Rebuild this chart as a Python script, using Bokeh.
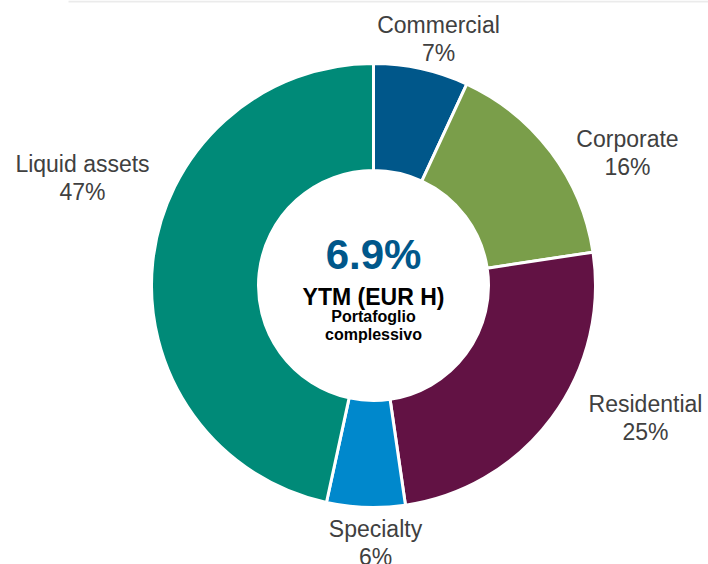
import math
from bokeh.plotting import figure
from bokeh.models import ColumnDataSource, Range1d
from bokeh.core.properties import value
from bokeh.embed import file_html
from bokeh.resources import INLINE

# ---- data ----
categories = ["Commercial", "Corporate", "Residential", "Specialty", "Liquid assets"]
shares = [6.9, 15.7, 25.1, 5.7, 46.6]
pct_labels = ["7%", "16%", "25%", "6%", "47%"]
colors = ["#00578A", "#7A9E4A", "#621244", "#0088CC", "#008A78"]
center_value = "6.9%"
center_title = "YTM (EUR H)"
center_sub = ["Portafoglio", "complessivo"]

# ---- layout ----
W, H = 708, 564
cx, cy = 373, H - 285
r_out, r_in = 222, 115
label_pos = [(438, 24), (627, 138), (645, 403), (375, 528), (82, 163)]
line_gap = 28

p = figure(width=W, height=H, output_backend="svg", toolbar_location=None,
           x_range=Range1d(0, W), y_range=Range1d(0, H), min_border=0)
p.axis.visible = False
p.grid.visible = False
p.outline_line_color = None
p.background_fill_color = "white"
p.border_fill_color = "white"

total = sum(shares)
starts, ends = [], []
acc = 0.0
for s in shares:
    a0 = math.pi / 2 - 2 * math.pi * acc / total
    acc += s
    a1 = math.pi / 2 - 2 * math.pi * acc / total
    starts.append(a0)
    ends.append(a1)

src = ColumnDataSource(dict(start=starts, end=ends, color=colors,
                            x=[cx] * 5, y=[cy] * 5))
p.annular_wedge(x="x", y="y", inner_radius=r_in, outer_radius=r_out,
                start_angle="start", end_angle="end", direction="clock",
                fill_color="color", line_color="white", line_width=3, source=src)

# top rule
p.segment(x0=[68], y0=[H - 1], x1=[W], y1=[H - 1], line_color="#ebebeb", line_width=2)

# slice labels
lx = [pt[0] for pt in label_pos]
ly1 = [H - pt[1] for pt in label_pos]
ly2 = [H - pt[1] - line_gap for pt in label_pos]
p.text(x=lx, y=ly1, text=categories, text_align="center", text_baseline="middle",
       text_font=value("Liberation Sans"), text_font_size="23px", text_color="#404040")
p.text(x=lx, y=ly2, text=pct_labels, text_align="center", text_baseline="middle",
       text_font=value("Liberation Sans"), text_font_size="23px", text_color="#404040")

# centre text
p.text(x=[cx], y=[H - 254], text=[center_value], text_align="center", text_baseline="middle",
       text_font=value("Liberation Sans"), text_font_size="42px", text_font_style="bold",
       text_color="#00578A")
p.text(x=[cx], y=[H - 296], text=[center_title], text_align="center", text_baseline="middle",
       text_font=value("Liberation Sans"), text_font_size="23px", text_font_style="bold",
       text_color="#000000")
p.text(x=[cx, cx], y=[H - 316, H - 334], text=center_sub, text_align="center",
       text_baseline="middle", text_font=value("Liberation Sans"), text_font_size="16px",
       text_font_style="bold", text_color="#000000")

open("out.html", "w").write(file_html(p, INLINE))
